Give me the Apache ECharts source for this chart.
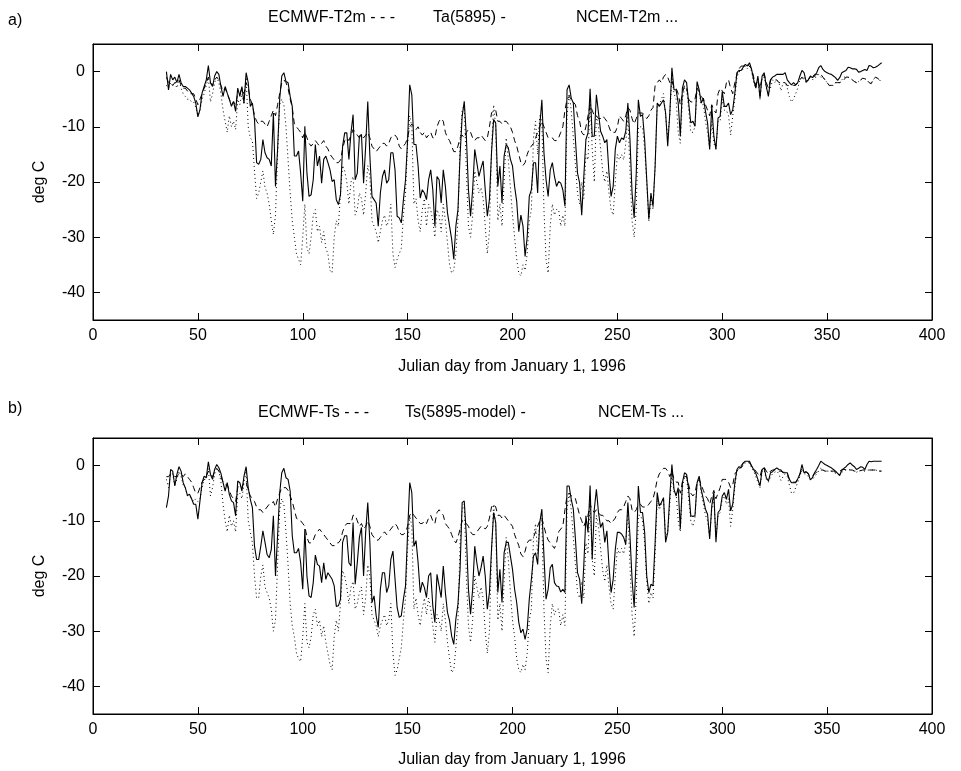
<!DOCTYPE html>
<html><head><meta charset="utf-8">
<script src="https://cdn.jsdelivr.net/npm/echarts@6/dist/echarts.min.js"></script>
<style>html,body{margin:0;padding:0;background:#fff}#c{width:961px;height:771px}</style>
</head><body><div id="c"></div>
<script>
const firstDay = 35;
const xTicks = [0, 50, 100, 150, 200, 250, 300, 350, 400];
const yTicks = [-40, -30, -20, -10, 0];
const titleA = ['ECMWF-T2m - - -', 'Ta(5895) -', 'NCEM-T2m ...'];
const titleB = ['ECMWF-Ts - - -', 'Ts(5895-model) -', 'NCEM-Ts ...'];
const xName = 'Julian day from January 1, 1996';
const yName = 'deg C';

// Panel a: observed Ta (solid), days 35..376
const ta = [
0,-3.3,-0.5,-1.5,-1,-2,-0.5,-2,-2.7,-2.7,
-3,-3.3,-3.9,-4.5,-5.7,-8.2,-6.9,-3.9,-2.7,-1.5,
1.1,-2,-2.7,-0.8,0,-0.5,-2.7,-4.5,-2.7,-3.9,
-5,-6.3,-5.4,-7.2,-3,-4.5,-2.7,-5.7,-0.2,-2,
-6.3,-5.7,-8.7,-16.5,-16.8,-15.9,-12.3,-14.7,-15.6,-15.9,
-17.1,-7.5,-20.8,-14.1,-5,-0.8,-0.2,-1.8,-2,-4.5,
-6.3,-15.3,-15.3,-14.4,-18.4,-23.5,-9.9,-18.4,-22.6,-22.3,
-19.6,-13.2,-17.1,-15.3,-20.2,-15.9,-15.3,-16.5,-17.8,-19.9,
-19.6,-23.2,-24.1,-22.3,-13.5,-11.1,-11.1,-15.9,-11.1,-7.8,
-19.6,-18.4,-11.7,-11.4,-20.2,-13.5,-5.4,-15.3,-22.6,-23.2,
-23.8,-28,-22,-19,-17.8,-20.2,-19.6,-14.7,-14.7,-17.8,
-26.2,-26.5,-27.4,-23.2,-19.6,-12.3,-2.4,-4.2,-13.2,-13.2,
-17.1,-22.9,-21.4,-22,-23.2,-19.6,-17.8,-21.4,-28,-19,
-19.6,-23.8,-17.8,-20.8,-25.6,-28,-30.4,-34,-28,-25,
-15.3,-8.1,-5.4,-11.7,-21.4,-26.2,-21.4,-14.1,-16.5,-19,
-17.5,-16.2,-21.4,-26.2,-23.2,-14.7,-8.7,-9.3,-20.8,-17.1,
-23.8,-15.3,-13.2,-13.8,-15.9,-17.1,-20.8,-23.5,-29,-26,
-28,-33.5,-30,-22.6,-21.4,-16.5,-16.5,-22,-9.9,-5.1,
-14.7,-19.6,-22.6,-17.8,-16.5,-19,-20.8,-19.9,-20.2,-21.4,
-24.4,-3.3,-2.4,-4.8,-5.7,-12.3,-18.4,-20.2,-26,-19,
-12.3,-11.1,-3.1,-11.7,-11.7,-4.2,-7.5,-10.8,-11.7,-12.9,
-12.3,-18.4,-22.6,-20.8,-14.1,-11.7,-12.9,-12,-12.3,-10.8,
-5.7,-12.3,-22,-26.5,-18.4,-5.1,-8.1,-7.8,-12.3,-19.6,
-26.8,-22,-24.4,-17.1,-5.7,-6.3,-5.7,-5.1,-7.5,-13.5,
-7.5,0.7,-3.3,-3.3,-5.7,-11.7,-3,-1.5,-2,-5.7,
-9.3,-9,-9.9,-1.8,-3.3,-5.7,-4.8,-7.2,-9.3,-14.1,
-6.3,-11.7,-14.1,-8.4,-8.1,-3.6,-6.3,-6.3,-5.7,-7.8,
-6.9,-3.9,-0.2,0.2,0.2,0.8,1.3,1,1.6,0.4,
-1.5,-3,-0.8,-4.8,-0.8,-0.2,-2.7,-4.5,-1.5,-1,
-0.8,-0.5,-0.5,-0.5,-0.5,-0.2,-1.5,-2,-2.4,-2,
-2.4,-2,-0.8,0.2,-0.2,-1.8,-1.5,-0.8,-1.1,-0.8,
-0.2,0.7,1.1,0.4,0,-0.2,-0.4,-0.5,-0.8,-1.1,
-1.6,-1.1,-0.2,0,0.2,0.8,0.7,0.5,0.5,0.4,
-0.1,0,0.2,0.4,0.2,1.1,1,0.7,0.8,1,
1.3,1.6];

// Panel a: ECMWF T2m (dashed)
const ecT2m = [
-1,-2,-2,-2.5,-2,-2,-1.5,-2.5,-3,-3,
-3.5,-4,-4,-4,-5,-6,-5,-4,-3,-2,
-1,-2,-2.5,-1.5,-1,-1.5,-2.5,-3.5,-3,-4,
-5,-6,-5.5,-6,-4,-4,-3,-4,-2,-3,
-5,-6,-8,-9,-9.5,-9,-9,-9.5,-10,-9,
-8,-7,-8,-6,-4,-2,-1.5,-2,-3,-5,
-6.5,-9.5,-10,-10.5,-11,-12,-11,-12,-13,-13.5,
-13,-12.5,-13,-13.5,-13,-12.5,-13.5,-14,-15,-15.5,
-16,-16.5,-16.5,-16,-14,-12.5,-12,-12.5,-11.5,-10.5,
-11,-11.5,-12,-11.5,-12,-11.5,-11,-12,-13.5,-14,
-14.5,-14,-13.5,-13,-13,-13.5,-13,-12,-11.5,-11.5,
-12,-13.5,-14,-13.5,-13,-12,-10,-9.5,-10,-10.5,
-10,-11,-11.5,-11,-12,-11.5,-11,-12,-12,-10,
-9,-8.5,-9,-11,-12,-12.5,-13.5,-14.5,-14.5,-13.5,
-12,-11.5,-12,-11,-10.5,-11,-12,-12.5,-12,-12,
-11.5,-12,-12.5,-12,-10,-7.5,-7,-7,-9,-9,
-9.5,-9,-9,-9.5,-10,-11,-12.5,-13.5,-15,-16.5,
-17,-16.5,-15,-14,-13.5,-13,-12,-11,-10,-9,
-10,-11,-12,-12,-12,-12.5,-12.5,-12,-11,-10,
-7,-5,-4.5,-5,-5.5,-6,-8,-9,-11,-11.5,
-10,-8,-6,-7,-8,-8,-8.5,-8.5,-8,-8.5,
-9,-10,-11,-11,-11,-10,-8,-8.5,-9,-8,
-6.5,-7,-8.5,-9.5,-8.5,-7.5,-7.5,-7.5,-8,-8.5,
-8,-7,-6.5,-2.5,-2,-1.5,-2,-1,-0.5,-1,
-2,-1.5,-3,-3,-4,-6,-4,-2.5,-3,-5,
-5.5,-5.5,-5,-3,-3.5,-4.5,-5,-6,-7,-8,
-6,-7,-7.5,-4,-3,-3.5,-4,-2,-1.5,-3,
-4,-2,-0.5,0.5,1,1,1.2,1.3,1,0.5,
-1,-2.5,-1.5,-3,-1,-0.5,-2,-3,-1.5,-1.5,
-1.5,-1.5,-2,-2,-2,-2,-2.5,-2.5,-2.5,-2.5,
-2.5,-2,-1.5,-1,-1.5,-2,-1.5,-1,-1,-0.5,
-0.5,-0.5,-0.5,-1,-1.5,-2,-2.5,-2.5,-2.5,-2,
-2,-2,-1.8,-1.5,-1,-1,-1.2,-1.5,-1.8,-2,
-1.8,-1.5,-1.2,-1.3,-1.5,-2,-2.2,-1.5,-1,-1.2,
-1.5,-2];

// Panel a: NCEM T2m (dotted)
const ncemT2m = [
-2.5,-3,-2,-2.5,-2,-3,-1.5,-3,-4,-4.5,
-5,-5,-5.5,-5.5,-6.5,-8,-7,-5,-4,-2.5,
-1,-5.5,-4,-2,-1,-2,-4,-7,-9,-11,
-8,-10,-9,-10.5,-5,-6,-4,-6,-1,-10,
-12,-12.5,-18,-23,-22,-20,-18,-21,-22,-24,
-27,-29.5,-26,-15,-6,-5,-6,-10,-16,-22,
-27,-30,-33,-34,-35,-30,-24,-32,-33,-30,
-26,-25,-29,-28,-31,-29,-32,-33,-36,-36.5,
-30,-27,-28,-22,-17,-18,-20,-24,-20,-19,
-26,-25,-22,-23,-26,-22,-17,-19,-27,-28,
-29,-31,-29,-27,-26,-28,-27,-24,-33,-35.5,
-34,-33,-32,-26,-22,-13,-8,-10,-24,-23,
-27,-29,-25,-23,-28,-24,-25,-27,-30,-25,
-26,-29,-24,-27,-31,-35,-36.5,-36,-33,-27,
-13,-7,-6,-18,-28,-30,-26,-18,-20,-22,
-21,-23,-28,-33,-29,-14,-6,-10,-27,-24,
-28,-20,-12,-16,-21,-26,-30,-34,-36.5,-37,
-35,-36,-33,-27,-25,-12,-9,-15,-8,-9,
-25,-34,-36.5,-28,-24,-26,-25,-25,-28,-26,
-28,-8,-4,-7,-12,-17,-22,-24,-20,-23,
-15,-16,-5,-14,-20,-8,-10,-14,-18,-20,
-18,-22,-25,-26,-20,-15,-16,-15,-16,-13,
-8,-18,-27,-30,-25,-10,-10,-10,-14,-20,
-27,-23,-25,-17,-6,-6,-5,-4,-8,-12,
-8,-1,-4,-5,-11,-13,-5,-3,-3,-7,
-11,-11,-10,-3,-4,-6,-6,-9,-11,-14,
-9,-13,-14,-9,-9,-5,-7,-7,-8,-11.5,
-8,-5,-1,0,0,0.5,1,0.5,1,0,
-2,-3,-1,-5,-1,-1,-3,-4,-3,-1.5,
-2,-1.5,-2,-3.5,-2,-2,-3,-4.5,-5.5,-5,
-4,-3,-1.5,-1,-1,-2,-1.5,-1,-1.5,-1,
-1,-0.5,-1,-1,-1.5,-2,-2.5,-2.5,-2.5,-2,
-2,-2,-1.5,-1,-1,-1,-1.2,-1.5,-1.8,-2,
-1.8,-1.5,-1.2,-1.3,-1.5,-2,-2,-1.5,-1,-1.2,
-1.5,-2];

// Panel b: Ts (5895-model) (solid)
const tsModel = [
-7.6,-5.5,-0.7,-1,-3.7,-1.6,-0.2,-1,-3.1,-4,
-5.4,-5.2,-6,-7,-7,-9.7,-6.4,-3.1,-1.9,-2.2,
0.7,-1.6,-2.5,-0.7,0.2,-0.4,-1.4,-3.1,-4.6,-3.1,
-5.2,-6.4,-6.7,-9.1,-2.8,-3.1,-4.6,-1.9,-0.2,-4,
-6.1,-7.6,-14.6,-17,-17,-14.6,-11.8,-13.9,-16.1,-16.7,
-15.2,-9.1,-20,-12.7,-5,-1.3,-0.5,-2.2,-2.5,-4.6,
-12.7,-15.8,-15.8,-15,-17.6,-22.4,-11.5,-20,-23.6,-23.9,
-21.2,-16.2,-17.9,-18.2,-21.2,-17.6,-20.6,-19.4,-20,-20.6,
-21.8,-25.5,-25.4,-24.2,-13.9,-12.7,-12.7,-17.6,-18.2,-10.3,
-21.5,-17.6,-13,-11.2,-20,-12.1,-6.7,-13.9,-24.8,-23.6,
-27.2,-29.3,-22.4,-19.4,-19.4,-23,-21.8,-17,-15.5,-20.6,
-25.7,-27.5,-27.2,-24.2,-21.8,-12.1,-3.1,-4.9,-14.6,-13.6,
-17.6,-23,-21.1,-22.1,-23.9,-20,-19.4,-25.4,-28.4,-19.7,
-21.8,-23.9,-18.2,-23,-26.6,-28.1,-30.9,-32.4,-27.8,-25.1,
-18.8,-6.7,-6.4,-12.7,-22.4,-26.9,-22.4,-14.6,-17.6,-20,
-18.5,-16.4,-20,-26,-23,-15.2,-8.5,-10.3,-23,-18.8,
-24.8,-15.8,-13.9,-13.9,-16.4,-18.8,-22.4,-24.8,-28.4,-30.3,
-29.6,-31.5,-29.6,-24.2,-20.6,-16.4,-15.8,-17.9,-10.3,-7.9,
-16.4,-24.2,-22.4,-18.5,-17.9,-21.2,-21.8,-21.9,-22.9,-22.4,
-23,-3.7,-3.7,-6.1,-7.9,-13.3,-19.4,-20.6,-25,-18,
-9.1,-12.1,-3.6,-17,-7.9,-4.3,-8.5,-11.2,-10.3,-13.9,
-11.8,-18.2,-23,-20.6,-15.2,-12.1,-12.1,-12.4,-13,-14.3,
-6.7,-12.7,-20.6,-25.7,-16.4,-3.7,-8.5,-8.5,-12.1,-20,
-23,-21.5,-21.8,-13.9,-4.9,-7.3,-6.7,-5.8,-13.9,-12.1,
-5.5,0.2,-4.3,-5.5,-4,-11.5,-3.1,-1.3,-1.6,-4.3,
-9.1,-9.2,-9.1,-3.1,-1.9,-4.4,-6.1,-7.9,-8.8,-13.3,
-7.3,-4.9,-13.9,-8.5,-8,-5.5,-4.9,-6.1,-4.3,-8.2,
-7,-3.1,-0.7,-0.2,-0.4,0.5,0.8,0.8,0.8,-0.1,
-0.7,-1.4,-2.5,-3.7,-0.7,-0.4,-2.2,-2.8,-1.3,-1.1,
-0.7,-0.4,-0.7,-0.8,-1.3,-1.3,-1.3,-2.5,-3.1,-3.1,
-3.1,-2.4,-1.6,0.2,-1.3,-1.1,-1.4,-2.6,-2.2,-1.3,
-0.7,0,0.8,0.5,0.2,0,-0.2,-0.4,-0.7,-1,
-1.4,-1.8,-0.8,-0.5,-0.2,0.2,0.5,0.1,-0.2,-0.7,
-0.5,-0.2,-0.3,-0.7,0.2,0.8,0.7,0.8,0.8,0.8,
0.8,0.8];

// Panel b: ECMWF Ts (dashed)
const ecTs = [
-2,-2,-1.5,-1.5,-2,-2,-1.5,-1.5,-2,-1.5,
-2,-2.5,-3,-4,-5,-5,-4,-3,-2.5,-2,
-1,-1.5,-2,-1,-0.5,-1,-2,-3,-3.5,-3.5,
-4.5,-5.5,-6,-6.5,-4,-3.5,-4,-3,-3,-4.5,
-5.5,-6,-6.5,-7.5,-8,-8,-8.5,-8,-7.5,-7,
-7,-6.5,-7.5,-6,-5,-4,-4,-4,-4.5,-5.5,
-6.5,-8,-9.5,-10,-10,-10.5,-11,-13,-14,-14,
-13.5,-12.5,-12,-11.5,-12,-12.5,-13,-13.5,-14,-14.5,
-14.5,-14,-14,-13.5,-12,-11,-10.5,-10.5,-10.5,-9,
-9,-10,-11,-10.5,-11.5,-11,-10,-11,-12.5,-13,
-13.5,-13.5,-13,-12.5,-12,-12.5,-12,-11.5,-11,-10.5,
-11,-12,-12.5,-12.5,-12,-11,-9,-8.5,-9,-9.5,
-10,-10.5,-10.5,-10,-10.5,-9.5,-9,-10,-10.5,-8.5,
-8,-8.5,-9,-10.5,-11,-11.5,-12.5,-13.5,-14,-13,
-11.5,-10,-10,-10.5,-11,-12,-12.5,-12.5,-12,-11.5,
-11,-11,-11.5,-11,-9.5,-7.5,-7,-7.5,-9,-9,
-9.5,-9,-9.5,-10,-10.5,-11,-12.5,-13.5,-14.5,-16,
-16.5,-15.5,-14,-13.5,-13.5,-13,-12,-11,-10,-9.5,
-11,-12.5,-13.5,-14,-14.5,-15,-14,-12,-11.5,-11,
-8,-5.5,-5,-5.5,-5.5,-6,-7.5,-9,-10,-11,
-10,-9,-7,-8,-8.5,-8,-8.5,-9,-9,-9.5,
-10,-10,-10.5,-10,-9.5,-8.5,-8,-8,-7.5,-6.5,
-5.5,-6,-8,-8.5,-8,-7,-7,-7.5,-7.5,-7.5,
-7,-6.5,-6,-4.5,-2.5,-1.5,-1,-0.5,-0.5,-1,
-2,-1,-2.5,-3,-3,-5,-3,-2,-2,-3.5,
-5,-5.5,-5,-3,-2.5,-3.5,-4.5,-5.5,-6,-7,
-5.5,-4.5,-6,-5,-4,-2.5,-2.5,-2.5,-3,-4,
-3.5,-1.5,-1,-0.5,0,0.5,0.7,0.8,0.5,0,
-0.5,-1,-1.5,-2,-0.5,-0.3,-1,-1.5,-1,-0.8,
-0.8,-0.8,-1,-1,-1.2,-1.2,-1.5,-2.5,-3,-3,
-3,-2.5,-1.5,-0.8,-1,-1.2,-1.5,-2,-1.8,-1.5,
-1.2,-1,-0.8,-0.8,-1,-1,-1,-1,-1,-1.2,
-1.2,-1,-0.8,-0.7,-0.7,-0.7,-0.8,-0.8,-1,-1,
-1,-0.9,-0.8,-0.8,-0.8,-0.8,-0.8,-0.8,-0.8,-0.9,
-1,-1];

// Panel b: NCEM Ts (dotted)
const ncemTs = [
-2.5,-4,-1.5,-1.5,-3.5,-2.5,-1,-2,-3.5,-4,
-5.5,-5.5,-6,-6.5,-6,-6.5,-6,-4,-2.5,-2.5,
-0.5,-5.5,-4,-1.5,-0.5,-1,-3,-7,-10,-12,
-9,-11,-10,-12,-5,-5,-6,-3,-1,-10,
-12,-14,-20,-24,-24,-20,-18,-22,-23,-24,
-26,-30,-28,-18,-8,-6,-7,-12,-18,-25,
-29,-31,-34,-35,-35.5,-31,-25,-32,-33,-31,
-27,-26,-29,-28,-31,-29,-32,-34,-36,-37,
-31,-28,-30,-25,-19,-20,-22,-25,-22,-21,
-26,-25,-23,-22,-27,-24,-18,-20,-27,-28,
-29,-31,-29,-28,-27,-29,-28,-25,-34,-38,
-37,-35,-33,-28,-24,-15,-9,-11,-26,-24,
-27,-29,-26,-24,-27,-24,-26,-29,-32,-27,
-28,-30,-25,-28,-32,-35,-37.5,-37,-33,-28,
-14,-8,-7,-20,-29,-32,-28,-20,-22,-24,
-22,-24,-30,-34,-30,-16,-7,-11,-28,-25,
-30,-21,-13,-17,-23,-28,-31,-35,-37,-37.5,
-36,-37,-34,-28,-26,-13,-10.5,-16,-10,-10,
-26,-35,-37.5,-29,-25,-27,-26,-26,-29,-27,
-29,-8,-5,-8,-13,-18,-23,-24,-21,-24,
-14,-16,-6,-17,-20,-9,-11,-15,-19,-21,
-18,-22,-25,-26,-20,-15,-16,-15,-16,-14,
-8,-18,-27,-31,-24,-9,-9,-10,-14,-21,
-25,-23,-24,-16,-6,-8,-7,-6,-13,-12,
-7,-1,-5,-5,-10,-12,-4,-2,-2,-6,
-10,-11,-9.5,-3,-2.5,-5,-7,-9,-10,-13,
-8,-6,-13,-9,-8.5,-6,-5.5,-7,-6,-11,
-8,-4,-1,-0.5,-0.5,0,0.5,0.5,0.5,-0.5,
-1,-2,-3,-4,-1,-0.8,-2.5,-3,-2,-1.5,
-1.2,-1,-1.5,-2.7,-2,-1.5,-2,-3.5,-5,-5,
-4,-3,-2,-0.5,-1.5,-1.5,-2,-2.5,-2.5,-2,
-1.5,-1,-0.5,-0.8,-1,-1,-1,-1,-1.2,-1.4,
-1.5,-1.6,-1.2,-1,-0.8,-0.7,-0.8,-0.8,-1,-1.2,
-1,-0.9,-1,-1,-0.8,-0.8,-0.8,-0.8,-0.8,-0.9,
-1,-1];

const pairs = arr => arr.map((v, i) => [firstDay + i, v]);
const FONT = 'Liberation Sans, Arial, Helvetica, sans-serif';
const FS = 16;
const panels = [{top: 44}, {top: 438}];
const H = 276, LEFT = 93, W = 839;

const grids = [], xAxes = [], yAxes = [];
panels.forEach((p, k) => {
  grids.push({left: LEFT, top: p.top, width: W, height: H, show: true, borderColor: '#000', borderWidth: 1, backgroundColor: 'transparent'});
  const tickIn = {show: true, inside: true, length: 7, lineStyle: {color: '#000', width: 1}};
  const axLine = {show: true, onZero: false, lineStyle: {color: '#000'}};
  xAxes.push({type: 'value', gridIndex: k, min: 0, max: 400, interval: 50, position: 'bottom',
    axisLine: axLine, axisTick: tickIn,
    axisLabel: {color: '#000', fontFamily: FONT, fontSize: FS, margin: 8, customValues: xTicks},
    splitLine: {show: false}});
  xAxes.push({type: 'value', gridIndex: k, min: 0, max: 400, interval: 50, position: 'top',
    axisLine: axLine, axisTick: tickIn,
    axisLabel: {show: false}, splitLine: {show: false}});
  yAxes.push({type: 'value', gridIndex: k, min: -45, max: 5, position: 'left',
    axisLine: axLine,
    axisTick: Object.assign({customValues: yTicks}, tickIn),
    axisLabel: {color: '#000', fontFamily: FONT, fontSize: FS, margin: 8, customValues: yTicks},
    splitLine: {show: false}});
  yAxes.push({type: 'value', gridIndex: k, min: -45, max: 5, position: 'right',
    axisLine: axLine,
    axisTick: Object.assign({customValues: yTicks}, tickIn),
    axisLabel: {show: false}, splitLine: {show: false}});
});

function line(data, k, type, width) {
  return {type: 'line', xAxisIndex: 2 * k, yAxisIndex: 2 * k, data: pairs(data),
    showSymbol: false, symbol: 'none', silent: true, clip: true,
    lineStyle: {color: '#000', width: width, type: type}};
}

const series = [
  line(ecT2m, 0, [6, 4], 1),
  line(ncemT2m, 0, [1, 3], 1),
  line(ta, 0, 'solid', 1.1),
  line(ecTs, 1, [6, 4], 1),
  line(ncemTs, 1, [1, 3], 1),
  line(tsModel, 1, 'solid', 1.1)
];

const txt = (x, y, s, extra) => ({type: 'text', x: x, y: y,
  style: Object.assign({text: s, fill: '#000', font: FS + 'px ' + FONT, textAlign: 'left', textVerticalAlign: 'middle'}, extra || {})});

const graphic = [
  txt(8, 21, 'a)'),
  txt(8, 409, 'b)'),
  txt(268, 18, titleA[0]), txt(433, 18, titleA[1]), txt(576, 18, titleA[2]),
  txt(258, 413, titleB[0]), txt(405, 413, titleB[1]), txt(598, 413, titleB[2]),
  txt(512, 367, xName, {textAlign: 'center'}),
  txt(512, 760, xName, {textAlign: 'center'}),
  {type: 'text', x: 40, y: 182, rotation: Math.PI / 2,
    style: {text: yName, fill: '#000', font: FS + 'px ' + FONT, textAlign: 'center', textVerticalAlign: 'middle'}},
  {type: 'text', x: 40, y: 576, rotation: Math.PI / 2,
    style: {text: yName, fill: '#000', font: FS + 'px ' + FONT, textAlign: 'center', textVerticalAlign: 'middle'}}
];

const chart = echarts.init(document.getElementById('c'), null, {renderer: 'canvas'});
chart.setOption({animation: false, backgroundColor: '#fff', grid: grids, xAxis: xAxes, yAxis: yAxes, series: series, graphic: graphic});
</script></body></html>
